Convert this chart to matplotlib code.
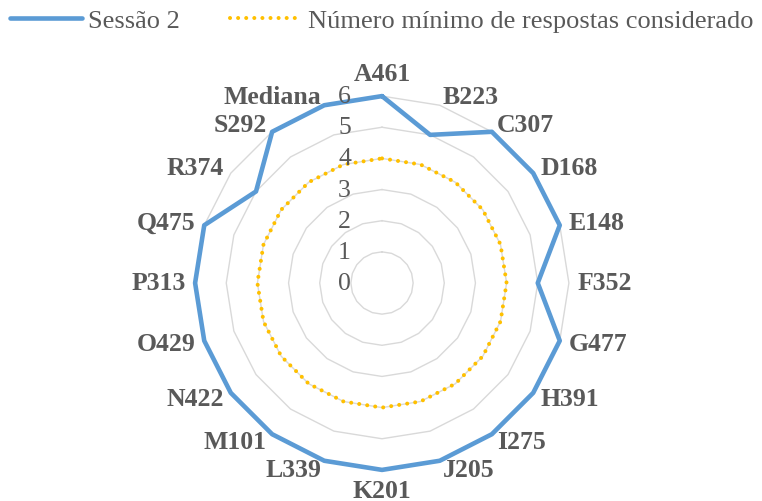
import numpy as np
import matplotlib.pyplot as plt

# Radar chart data
categories = ['A461', 'B223', 'C307', 'D168', 'E148', 'F352', 'G477', 'H391',
              'I275', 'J205', 'K201', 'L339', 'M101', 'N422', 'O429', 'P313',
              'Q475', 'R374', 'S292', 'Mediana']
sessao2 = [6, 5, 6, 6, 6, 5, 6, 6, 6, 6, 6, 6, 6, 6, 6, 6, 6, 5, 6, 6]
minimo = [4, 4, 4, 4, 4, 4, 4, 4, 4, 4, 4, 4, 4, 4, 4, 4, 4, 4, 4, 4]
grid_levels = [1, 2, 3, 4, 5, 6]
tick_values = [0, 1, 2, 3, 4, 5, 6]

serif = 'Liberation Serif'
txt_col = '#595959'
PT = 0.72  # points per pixel at dpi 100

n = len(categories)
ang = np.deg2rad(np.arange(n) * 360.0 / n)


def ring(vals):
    # clockwise from the top, closed polygon
    v = np.append(vals, vals[0])
    a = np.append(ang, ang[0])
    return v * np.sin(a), v * np.cos(a)


fig = plt.figure(figsize=(7.62, 5.02), dpi=100)
ax = fig.add_axes([0, 0, 1, 1])
ax.axis('off')
px = 31.15  # pixels per unit
cx, cy = 382, 284
ax.set_xlim(-cx / px, (762 - cx) / px)
ax.set_ylim(-(502 - cy) / px, cy / px)

for lev in grid_levels:
    gx, gy = ring(np.full(n, lev))
    ax.plot(gx, gy, color='#d9d9d9', lw=1.0, zorder=1)

mx, my = ring(np.array(minimo, dtype=float))
l_min, = ax.plot(mx, my, color='#ffc000', lw=2.9, linestyle=(0, (0.01, 2.0)),
                 dash_capstyle='round', zorder=2,
                 label='Número mínimo de respostas considerado')

sx, sy = ring(np.array(sessao2, dtype=float))
l_s2, = ax.plot(sx, sy, color='#5b9bd5', lw=3.3, solid_joinstyle='round',
                solid_capstyle='round', zorder=3, label='Sessão 2')

# value labels along the top axis
for v in tick_values:
    ax.annotate(str(v), xy=(0, v), xytext=(-31 * PT, 0), textcoords='offset points',
                ha='right', va='center', fontsize=18.5, family=serif,
                color=txt_col, zorder=5)

# category labels around the outer ring
rmax = max(grid_levels)
for a, name in zip(ang, categories):
    s, c = np.sin(a), np.cos(a)
    if abs(s) < 0.05:
        ha = 'center'
        va = 'bottom' if c > 0 else 'top'
        off = (0, (11 if c > 0 else 9) * PT * np.sign(c))
    else:
        ha = 'left' if s > 0 else 'right'
        va = 'center'
        off = (9 * PT * s, 9 * PT * c)
    ax.annotate(name, xy=(rmax * s, rmax * c), xytext=off, textcoords='offset points',
                ha=ha, va=va, fontsize=18.5, family=serif, fontweight='bold',
                color=txt_col, zorder=5)

fig.legend(handles=[l_s2, l_min], loc='center left',
           bbox_to_anchor=(10 / 762, 1 - 21 / 502), ncol=2, frameon=False,
           prop={'family': serif, 'size': 19}, labelcolor=txt_col,
           handlelength=2.73, handletextpad=0.23, columnspacing=1.9,
           borderpad=0, borderaxespad=0)

fig.savefig('out.png', dpi=100)
